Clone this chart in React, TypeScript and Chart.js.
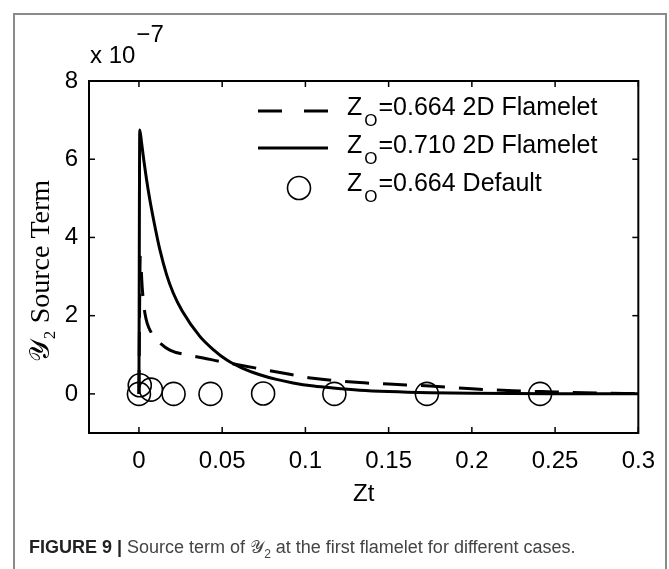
import React, { useEffect, useRef } from "react";
import { Chart, registerables } from "chart.js";

Chart.register(...registerables);

// ---- tick values / labels ----
const xTickValues = [0, 0.05, 0.1, 0.15, 0.2, 0.25, 0.3];
const xTickLabels = ["0", "0.05", "0.1", "0.15", "0.2", "0.25", "0.3"];
const yTickValues = [0, 2, 4, 6, 8];
const yTickLabels = ["0", "2", "4", "6", "8"];

// ---- series (y in units of 1e-7) ----
const dashedX = [0, 0.0008, 0.002, 0.0036, 0.0076, 0.012, 0.0186, 0.0286, 0.0386, 0.0486, 0.0626, 0.0766, 0.0906, 0.1046, 0.1326, 0.15, 0.175, 0.2, 0.225, 0.25, 0.275, 0.3];
const dashedY = [0, 3.5, 2.7, 2.06, 1.55, 1.33, 1.12, 1.0, 0.92, 0.83, 0.72, 0.61, 0.5, 0.4, 0.29, 0.25, 0.2, 0.13, 0.08, 0.05, 0.02, 0.01];

const solidX = [0, 0.0005, 0.0015, 0.003, 0.0045, 0.0066, 0.0096, 0.0126, 0.0166, 0.0206, 0.026, 0.0366, 0.045, 0.0526, 0.062, 0.0726, 0.0826, 0.0926, 0.105, 0.1166, 0.1326, 0.15, 0.175, 0.2, 0.25, 0.3];
const solidY = [0, 6.75, 6.45, 5.95, 5.5, 4.95, 4.28, 3.68, 3.05, 2.58, 2.12, 1.47, 1.12, 0.87, 0.66, 0.49, 0.37, 0.28, 0.2, 0.15, 0.095, 0.06, 0.03, 0.015, 0.004, 0.001];

const defaultX = [0, 0.0005, 0.0072, 0.0208, 0.043, 0.0746, 0.1174, 0.173, 0.241];
const defaultY = [0, 0.22, 0.11, 0, 0, 0.01, 0, 0, 0];

const legendPrefix = "Z";
const legendSub = "O";
const legendRest = ["=0.664 2D Flamelet", "=0.710 2D Flamelet", "=0.664 Default"];
const yTitle = "\u{1D4B4}\u2082 Source Term";
const xTitle = "Zt";

const xMin = -0.03;
const xMax = 0.3;
const yMin = -1;
const yMax = 8;

const FONT = "'Liberation Sans', Arial, Helvetica, sans-serif";
const SERIF = "'Liberation Serif', 'DejaVu Serif', serif";

const overlay = {
  id: "overlay",
  afterDraw(chart: any) {
    const { ctx, chartArea: a, scales } = chart;
    ctx.save();
    ctx.strokeStyle = "#000";
    ctx.fillStyle = "#000";
    // box
    ctx.lineWidth = 2;
    ctx.strokeRect(a.left, a.top, a.right - a.left, a.bottom - a.top);
    // inward ticks on all sides
    ctx.lineWidth = 1.5;
    const tl = 6;
    const seg = (x1: number, y1: number, x2: number, y2: number) => {
      ctx.beginPath();
      ctx.moveTo(x1, y1);
      ctx.lineTo(x2, y2);
      ctx.stroke();
    };
    scales.x.ticks.forEach((t: any) => {
      const px = scales.x.getPixelForValue(t.value);
      seg(px, a.bottom, px, a.bottom - tl);
      seg(px, a.top, px, a.top + tl);
    });
    scales.y.ticks.forEach((t: any) => {
      const py = scales.y.getPixelForValue(t.value);
      seg(a.left, py, a.left + tl, py);
      seg(a.right, py, a.right - tl, py);
    });
    // exponent label
    ctx.font = `24px ${FONT}`;
    ctx.textBaseline = "middle";
    ctx.textAlign = "left";
    ctx.fillText("x 10", a.left + 1, a.top - 25);
    const w = ctx.measureText("x 10").width;
    ctx.fillText("\u22127", a.left + 2 + w, a.top - 46);

    // y title (rotated)
    ctx.save();
    ctx.translate(42, 271);
    ctx.rotate(-Math.PI / 2);
    ctx.textAlign = "center";
    ctx.font = `28px ${SERIF}`;
    ctx.fillText(yTitle, 0, 0);
    ctx.restore();

    // legend
    const sx0 = a.left + 169;
    const sx1 = a.left + 239;
    const tx = a.left + 258;
    const rows = [a.top + 27, a.top + 65, a.top + 103];
    ctx.lineWidth = 3;
    ctx.setLineDash([24, 22]);
    seg(sx0, rows[0] + 3, sx1, rows[0] + 3);
    ctx.setLineDash([]);
    seg(sx0, rows[1] + 2, sx1, rows[1] + 2);
    ctx.lineWidth = 1.6;
    ctx.beginPath();
    ctx.arc(a.left + 210, rows[2] + 4, 11.5, 0, Math.PI * 2);
    ctx.stroke();
    rows.forEach((ry: number, i: number) => {
      ctx.font = `25px ${FONT}`;
      ctx.fillText(legendPrefix, tx, ry);
      const wz = ctx.measureText(legendPrefix).width;
      ctx.font = `17px ${FONT}`;
      ctx.fillText(legendSub, tx + wz + 2, ry + 13);
      const wo = ctx.measureText(legendSub).width;
      ctx.font = `25px ${FONT}`;
      ctx.fillText(legendRest[i], tx + wz + 3 + wo, ry);
    });
    ctx.restore();
  },
};

export default function App() {
  const ref = useRef<HTMLCanvasElement | null>(null);
  useEffect(() => {
    if (!ref.current) return;
    const toPts = (xs: number[], ys: number[]) => xs.map((x, i) => ({ x, y: ys[i] }));
    const chart = new Chart(ref.current, {
      type: "scatter",
      data: {
        datasets: [
          {
            label: "dashed",
            data: toPts(dashedX, dashedY),
            showLine: true,
            borderColor: "#000",
            borderWidth: 3,
            borderDash: [24, 14],
            pointRadius: 0,
            cubicInterpolationMode: "monotone",
            fill: false,
          },
          {
            label: "solid",
            data: toPts(solidX, solidY),
            showLine: true,
            borderColor: "#000",
            borderWidth: 3,
            pointRadius: 0,
            cubicInterpolationMode: "monotone",
            fill: false,
          },
          {
            label: "default",
            data: toPts(defaultX, defaultY),
            showLine: false,
            pointStyle: "circle",
            pointRadius: 11.5,
            pointBorderWidth: 1.6,
            pointBorderColor: "#000",
            pointBackgroundColor: "rgba(0,0,0,0)",
          },
        ],
      } as any,
      options: {
        animation: false,
        responsive: false,
        devicePixelRatio: 1,
        events: [],
        layout: { padding: { left: 0, top: 81, right: 30, bottom: 36 } },
        plugins: { legend: { display: false }, tooltip: { enabled: false } },
        scales: {
          x: {
            type: "linear",
            min: xMin,
            max: xMax,
            afterBuildTicks: (s: any) => {
              s.ticks = xTickValues.map((v) => ({ value: v }));
            },
            afterFit: (s: any) => {
              s.height = 100;
            },
            grid: { display: false, drawTicks: false },
            border: { display: false },
            ticks: {
              autoSkip: false,
              maxRotation: 0,
              padding: 14,
              color: "#000",
              font: { family: FONT, size: 24 },
              callback: (v: any) => {
                const i = xTickValues.findIndex((t) => Math.abs(t - v) < 1e-9);
                return i >= 0 ? xTickLabels[i] : "";
              },
            },
            title: {
              display: true,
              text: xTitle,
              color: "#000",
              font: { family: FONT, size: 24 },
              padding: { top: 0, bottom: 24 },
            },
          },
          y: {
            type: "linear",
            min: yMin,
            max: yMax,
            afterBuildTicks: (s: any) => {
              s.ticks = yTickValues.map((v) => ({ value: v }));
            },
            afterFit: (s: any) => {
              s.width = 89;
            },
            grid: { display: false, drawTicks: false },
            border: { display: false },
            ticks: {
              autoSkip: false,
              padding: 11,
              color: "#000",
              font: { family: FONT, size: 24 },
              callback: (v: any) => {
                const i = yTickValues.findIndex((t) => Math.abs(t - v) < 1e-9);
                return i >= 0 ? yTickLabels[i] : "";
              },
            },
            title: { display: false },
          },
        },
      } as any,
      plugins: [overlay],
    });
    return () => chart.destroy();
  }, []);

  return (
    <div style={{ position: "fixed", left: 0, top: 0, width: 669, height: 569, background: "#fff", overflow: "hidden" }}>
      <div
        style={{
          position: "absolute",
          left: 13,
          top: 13,
          width: 654,
          height: 600,
          boxSizing: "border-box",
          border: "2px solid #8a8a8a",
        }}
      />
      <canvas ref={ref} width={669} height={569} style={{ position: "absolute", left: 0, top: 0, width: 669, height: 569 }} />
      <div
        style={{
          position: "absolute",
          left: 29,
          top: 535,
          fontFamily: "'Liberation Sans', Arial, sans-serif",
          fontSize: 18,
          color: "#444",
          whiteSpace: "nowrap",
          lineHeight: "24px",
        }}
      >
        <b style={{ color: "#222" }}>FIGURE 9 |</b> Source term of {"\u{1D4B4}"}
        <sub style={{ fontSize: 12 }}>2</sub> at the first flamelet for different cases.
      </div>
    </div>
  );
}
